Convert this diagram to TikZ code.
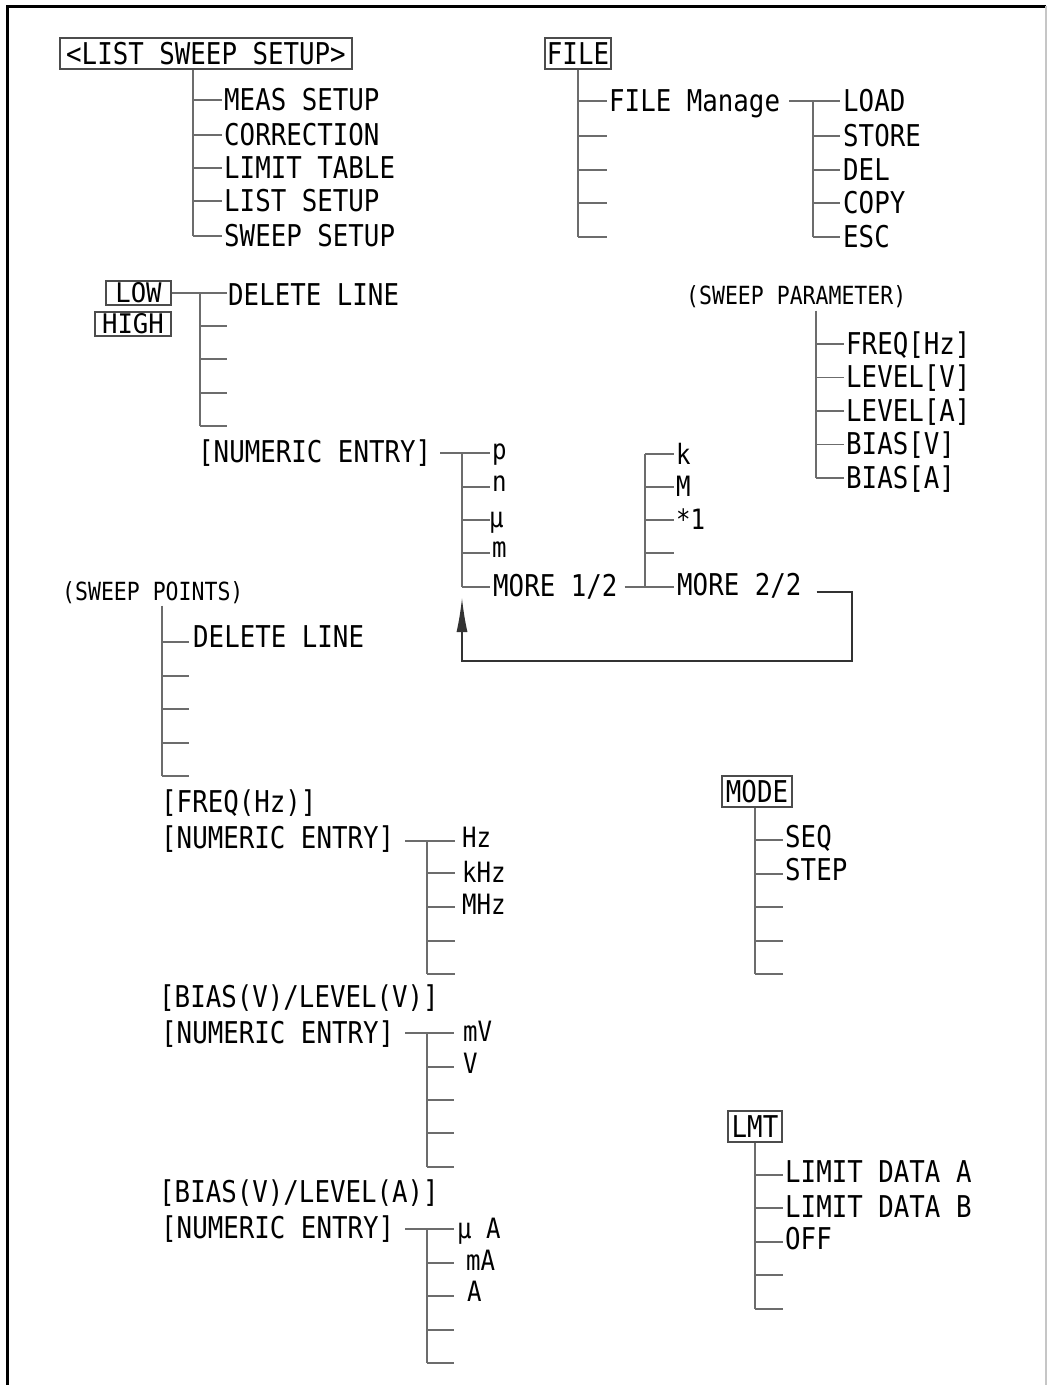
\documentclass[tikz,border=0pt]{standalone}
\usepackage{fontspec}
\newfontfamily\monof{DejaVu Sans Mono}[FakeStretch=0.86]
\newfontfamily\monow{DejaVu Sans Mono}[FakeStretch=0.95]
\usetikzlibrary{arrows.meta,calc}
\newcommand\fmain{\monof\fontsize{30}{32}\selectfont}
\newcommand\fsml{\monof\fontsize{25}{27}\selectfont}
\newcommand\funit{\monof\fontsize{28}{30}\selectfont}
\newcommand\flow{\monow\fontsize{27}{29}\selectfont}
\begin{document}
\begin{tikzpicture}[x=1pt,y=-1pt,
  lbl/.style={anchor=base west,inner sep=0pt,font=\fmain},
  ulbl/.style={anchor=base west,inner sep=0pt,font=\funit},
  slbl/.style={anchor=base west,inner sep=0pt,font=\fsml},
  conn/.style={draw=gray!85!black,line width=1.5pt},
  boxed/.style={draw=gray!60!black,line width=1.2pt,inner sep=0pt,font=\fmain},
  frame/.style={line width=3pt,draw=black}]
\useasboundingbox (0,0) rectangle (1048,1385);
% frame
\coordinate (fTL) at (7,6); \coordinate (fTR) at (1046,6);
\coordinate (fBL) at (7,1385); \coordinate (fBR) at (1046,1385);
\draw[frame] (fBL) -- (fTL) -- (fTR);
\draw[gray!45,line width=1.5pt] (fTR) -- (fBR);

% ---------- LIST SWEEP SETUP
\node[boxed,minimum width=292pt,minimum height=31pt] (lss) at (206,53.5) {<LIST SWEEP SETUP>};
\coordinate (st1) at (193,236);
\draw[conn] (lss.south -| st1) -- (st1);
\foreach \nm/\yy in {a1/100,a2/135,a3/168,a4/201,a5/236}{
  \coordinate (\nm) at (222,\yy); \draw[conn] (st1 |- \nm) -- (\nm);}
\foreach \nm/\dd/\tx in {a1/10/MEAS SETUP,a2/10/CORRECTION,a3/10/LIMIT TABLE,a4/10/LIST SETUP,a5/10/SWEEP SETUP}{
  \node[lbl] (\nm t) at ($(\nm)+(2,\dd)$) {\tx};}

% ---------- FILE
\node[boxed,minimum width=66pt,minimum height=31pt] (file) at (578,53.5) {FILE};
\coordinate (st2) at (578,237);
\draw[conn] (file.south) -- (st2);
\foreach \nm/\yy in {f1/101,f2/136,f3/170,f4/203,f5/237}{
  \coordinate (\nm) at (607,\yy); \draw[conn] (st2 |- \nm) -- (\nm);}
\node[lbl] (fmt) at ($(f1)+(2,10)$) {FILE Manage};
\coordinate (st3) at (813,237);
\foreach \nm/\yy in {g1/101,g2/136,g3/170,g4/203,g5/237}{
  \coordinate (\nm) at (840,\yy); \draw[conn] (st3 |- \nm) -- (\nm);}
\draw[conn] (st3 |- g1) -- (st3);
\draw[conn] ($(fmt.east |- g1)+(9,0)$) -- (g1);
\foreach \nm/\tx in {g1/LOAD,g2/STORE,g3/DEL,g4/COPY,g5/ESC}{
  \node[lbl] (\nm t) at ($(\nm)+(3,10)$) {\tx};}

% ---------- LOW / HIGH
\node[boxed,minimum width=65pt,minimum height=24pt,font=\flow] (low) at (138.5,293) {LOW};
\node[boxed,minimum width=76pt,minimum height=24pt,font=\flow] (high) at (133,324) {HIGH};
\coordinate (st4) at (200,426);
\foreach \nm/\yy in {d1/293,d2/326,d3/359,d4/393,d5/426}{
  \coordinate (\nm) at (227,\yy);}
\draw[conn] (low.east) -- (d1);
\draw[conn] (st4 |- d1) -- (st4);
\foreach \nm in {d2,d3,d4,d5}{\draw[conn] (st4 |- \nm) -- (\nm);}
\node[lbl] (d1t) at ($(d1)+(1,12)$) {DELETE LINE};

% ---------- NUMERIC ENTRY (units 1/2 and 2/2)
\node[lbl] (ne1) at (198,462) {[NUMERIC ENTRY]};
\coordinate (st5) at (462,587);
\foreach \nm/\yy in {p1/453,p2/487,p3/520,p4/553,p5/587}{
  \coordinate (\nm) at (490,\yy); \draw[conn] (st5 |- \nm) -- (\nm);}
\draw[conn] ($(ne1.east |- p1)+(9,0)$) -- (p1);
\draw[conn] (st5 |- p1) -- (st5);
\node[ulbl] (p1t) at ($(p1)+(2,6)$) {p};
\node[ulbl] (p2t) at ($(p2)+(2,4)$) {n};
\node[ulbl] (p3t) at ($(p3)+(-1,7)$) {μ};
\node[ulbl] (p4t) at ($(p4)+(2,4)$) {m};
\node[lbl] (p5t) at ($(p5)+(3,9)$) {MORE 1/2};
\coordinate (st6) at (645,587);
\foreach \nm/\yy in {q1/454,q2/487,q3/520,q4/553,q5/587}{
  \coordinate (\nm) at (674,\yy); \draw[conn] (st6 |- \nm) -- (\nm);}
\draw[conn] (st6 |- q1) -- (st6);
\draw[conn] ($(p5t.east |- q5)+(7,0)$) -- (q5);
\node[ulbl] (q1t) at ($(q1)+(2,10)$) {k};
\node[ulbl] (q2t) at ($(q2)+(2,9)$) {M};
\node[ulbl] (q3t) at ($(q3)+(2,9)$) {*1};
\node[lbl] (q5t) at ($(q5)+(3,8)$) {MORE 2/2};
% feedback arrow
\coordinate (fbs) at ($(q5t.east |- 0,592)+(15,0)$);
\coordinate (fbc) at (852,661);
\coordinate (fbe) at (462,598);
\draw[conn,draw=black!80,line width=1.3pt,-{Latex[length=34pt,width=11pt]}] (fbs) -| (fbc) -| (fbe);

% ---------- SWEEP PARAMETER
\node[slbl] (spt) at (686,304) {(SWEEP PARAMETER)};
\coordinate (st7) at (816,478);
\foreach \nm/\yy in {r1/344,r2/377.5,r3/411,r4/444.5,r5/478}{
  \coordinate (\nm) at (844,\yy); \draw[conn] (st7 |- \nm) -- (\nm);}
\draw[conn] ($(spt.south -| st7)+(0,3)$) -- (st7);
\foreach \nm/\tx in {r1/{FREQ[Hz]},r2/{LEVEL[V]},r3/{LEVEL[A]},r4/{BIAS[V]},r5/{BIAS[A]}}{
  \node[lbl] (\nm t) at ($(\nm)+(2,10)$) {\tx};}

% ---------- SWEEP POINTS
\node[slbl] (swp) at (62,600) {(SWEEP POINTS)};
\coordinate (st8) at (162,776);
\foreach \nm/\yy in {s1/642,s2/676,s3/709,s4/743,s5/776}{
  \coordinate (\nm) at (189,\yy); \draw[conn] (st8 |- \nm) -- (\nm);}
\draw[conn] ($(swp.south -| st8)+(0,2)$) -- (st8);
\node[lbl] (s1t) at ($(s1)+(4,5)$) {DELETE LINE};

% ---------- FREQ
\node[lbl] (frq) at (161,812) {[FREQ(Hz)]};
\node[lbl] (ne2) at (161,848) {[NUMERIC ENTRY]};
\coordinate (st9) at (427,974);
\foreach \nm/\yy in {h1/841,h2/873,h3/907,h4/941,h5/974}{
  \coordinate (\nm) at (455,\yy); \draw[conn] (st9 |- \nm) -- (\nm);}
\draw[conn] (st9 |- h1) -- (st9);
\draw[conn] ($(ne2.east |- h1)+(11,0)$) -- (h1);
\foreach \nm/\dd/\tx in {h1/6/Hz,h2/9/kHz,h3/7/MHz}{
  \node[ulbl] (\nm t) at ($(\nm)+(7,\dd)$) {\tx};}

% ---------- BIAS(V)/LEVEL(V)
\node[lbl] (bv) at (159,1007) {[BIAS(V)/LEVEL(V)]};
\node[lbl] (ne3) at (161,1043) {[NUMERIC ENTRY]};
\coordinate (st10) at (427,1167);
\foreach \nm/\yy in {v1/1033,v2/1067,v3/1100,v4/1133,v5/1167}{
  \coordinate (\nm) at (454,\yy); \draw[conn] (st10 |- \nm) -- (\nm);}
\draw[conn] (st10 |- v1) -- (st10);
\draw[conn] ($(ne3.east |- v1)+(11,0)$) -- (v1);
\node[ulbl] (v1t) at ($(v1)+(9,8)$) {mV};
\node[ulbl] (v2t) at ($(v2)+(9,6)$) {V};

% ---------- BIAS(V)/LEVEL(A)
\node[lbl] (ba) at (159,1202) {[BIAS(V)/LEVEL(A)]};
\node[lbl] (ne4) at (161,1238) {[NUMERIC ENTRY]};
\coordinate (st11) at (427,1363);
\foreach \nm/\yy in {w1/1229,w2/1263,w3/1296,w4/1330,w5/1363}{
  \coordinate (\nm) at (454,\yy); \draw[conn] (st11 |- \nm) -- (\nm);}
\draw[conn] (st11 |- w1) -- (st11);
\draw[conn] ($(ne4.east |- w1)+(11,0)$) -- (w1);
\node[ulbl] (w1t) at ($(w1)+(3,9)$) {μ A};
\node[ulbl] (w2t) at ($(w2)+(12,7)$) {mA};
\node[ulbl] (w3t) at ($(w3)+(13,5)$) {A};

% ---------- MODE
\node[boxed,minimum width=70pt,minimum height=31pt] (mode) at (757,791.5) {MODE};
\coordinate (st12) at (755,974);
\draw[conn] (mode.south -| st12) -- (st12);
\foreach \nm/\yy in {o1/840,o2/874,o3/907,o4/941,o5/974}{
  \coordinate (\nm) at (783,\yy); \draw[conn] (st12 |- \nm) -- (\nm);}
\node[lbl] (o1t) at ($(o1)+(2,7)$) {SEQ};
\node[lbl] (o2t) at ($(o2)+(2,6)$) {STEP};

% ---------- LMT
\node[boxed,minimum width=54pt,minimum height=31pt] (lmt) at (755,1126.5) {LMT};
\coordinate (st13) at (755,1309);
\draw[conn] (lmt.south -| st13) -- (st13);
\foreach \nm/\yy in {t1/1175,t2/1208,t3/1242,t4/1275,t5/1309}{
  \coordinate (\nm) at (783,\yy); \draw[conn] (st13 |- \nm) -- (\nm);}
\node[lbl] (t1t) at ($(t1)+(2,7)$) {LIMIT DATA A};
\node[lbl] (t2t) at ($(t2)+(2,9)$) {LIMIT DATA B};
\node[lbl] (t3t) at ($(t3)+(2,7)$) {OFF};
\end{tikzpicture}
\end{document}
